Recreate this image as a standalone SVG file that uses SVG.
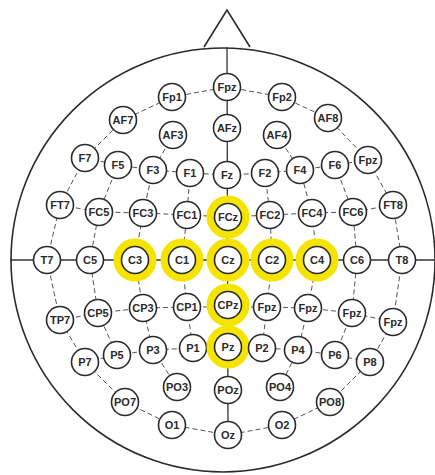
<svg xmlns="http://www.w3.org/2000/svg" width="435" height="475" viewBox="0 0 435 475">
<style>
.head{fill:none;stroke:#2a2a2a;stroke-width:1.6}
.axis{stroke:#333;stroke-width:1.3;fill:none}
.e{stroke:#555;stroke-width:1;stroke-dasharray:5 3;fill:none}
.n circle.c{fill:#fff;stroke:#2a2a2a;stroke-width:1.6}
.n circle.hl{fill:none;stroke:#f4e400;stroke-width:8}
.n text{font-family:"Liberation Sans",Arial,sans-serif;font-size:11px;font-weight:bold;fill:#2a2a2a;text-anchor:middle;dominant-baseline:central}
</style>
<rect width="435" height="475" fill="#fff"/>
<g id="head">
<circle class="head" cx="223" cy="260" r="212"/>
<path class="head" d="M204 47 L227 10 L250 47"/>
</g>
<g id="connectors">
<line class="axis" x1="227" y1="47" x2="228" y2="435"/>
<line class="axis" x1="10" y1="260" x2="435" y2="260"/>
<polyline class="e" points="47,260 60,205 85,158 123,120 172,97 227,87 282,97 328,118 368,160 393,205 402,260"/>
<polyline class="e" points="47,260 60,320 85,362 125,402 172,425 228,435 282,425 330,402 370,362 393,322 402,260"/>
<polyline class="e" points="85,158 118,165 153,170 190,173 227,175 265,173 300,170 335,165 368,160"/>
<polyline class="e" points="60,205 99,212 143,213 187,215 228,217 270,215 312,213 353,212 393,205"/>
<polyline class="e" points="60,320 98,313 143,308 187,307 228,307 267,307 308,308 352,313 393,322"/>
<polyline class="e" points="85,362 117,355 153,350 193,348 228,347 262,348 298,350 335,355 370,362"/>
<polyline class="e" points="173,135 153,170 143,213 135,260 143,308 153,350 177,387"/>
<polyline class="e" points="277,135 300,170 312,213 317,260 308,308 298,350 280,387"/>
<polyline class="e" points="118,165 99,212 90,260 98,313 117,355"/>
<polyline class="e" points="335,165 353,212 357,260 352,313 335,355"/>
<polyline class="e" points="190,173 187,215 182,260 187,307 193,348"/>
<polyline class="e" points="265,173 270,215 272,260 267,307 262,348"/>
</g>
<g id="Fpz" class="n"><circle class="c" cx="227" cy="87" r="13.5"/><text x="227" y="87">Fpz</text></g>
<g id="Fp1" class="n"><circle class="c" cx="172" cy="97" r="13.5"/><text x="172" y="97">Fp1</text></g>
<g id="Fp2" class="n"><circle class="c" cx="282" cy="97" r="13.5"/><text x="282" y="97">Fp2</text></g>
<g id="AF7" class="n"><circle class="c" cx="123" cy="120" r="13.5"/><text x="123" y="120">AF7</text></g>
<g id="AF3" class="n"><circle class="c" cx="173" cy="135" r="13.5"/><text x="173" y="135">AF3</text></g>
<g id="AFz" class="n"><circle class="c" cx="227" cy="128" r="13.5"/><text x="227" y="128">AFz</text></g>
<g id="AF4" class="n"><circle class="c" cx="277" cy="135" r="13.5"/><text x="277" y="135">AF4</text></g>
<g id="AF8" class="n"><circle class="c" cx="328" cy="118" r="13.5"/><text x="328" y="118">AF8</text></g>
<g id="F7" class="n"><circle class="c" cx="85" cy="158" r="13.5"/><text x="85" y="158">F7</text></g>
<g id="F5" class="n"><circle class="c" cx="118" cy="165" r="13.5"/><text x="118" y="165">F5</text></g>
<g id="F3" class="n"><circle class="c" cx="153" cy="170" r="13.5"/><text x="153" y="170">F3</text></g>
<g id="F1" class="n"><circle class="c" cx="190" cy="173" r="13.5"/><text x="190" y="173">F1</text></g>
<g id="Fz" class="n"><circle class="c" cx="227" cy="175" r="13.5"/><text x="227" y="175">Fz</text></g>
<g id="F2" class="n"><circle class="c" cx="265" cy="173" r="13.5"/><text x="265" y="173">F2</text></g>
<g id="F4" class="n"><circle class="c" cx="300" cy="170" r="13.5"/><text x="300" y="170">F4</text></g>
<g id="F6" class="n"><circle class="c" cx="335" cy="165" r="13.5"/><text x="335" y="165">F6</text></g>
<g id="F8" class="n"><circle class="c" cx="368" cy="160" r="13.5"/><text x="368" y="160">Fpz</text></g>
<g id="FT7" class="n"><circle class="c" cx="60" cy="205" r="13.5"/><text x="60" y="205">FT7</text></g>
<g id="FC5" class="n"><circle class="c" cx="99" cy="212" r="13.5"/><text x="99" y="212">FC5</text></g>
<g id="FC3" class="n"><circle class="c" cx="143" cy="213" r="13.5"/><text x="143" y="213">FC3</text></g>
<g id="FC1" class="n"><circle class="c" cx="187" cy="215" r="13.5"/><text x="187" y="215">FC1</text></g>
<g id="FCz" class="n"><circle class="hl" cx="228" cy="217" r="17.5"/><circle class="c" cx="228" cy="217" r="13.5"/><text x="228" y="217">FCz</text></g>
<g id="FC2" class="n"><circle class="c" cx="270" cy="215" r="13.5"/><text x="270" y="215">FC2</text></g>
<g id="FC4" class="n"><circle class="c" cx="312" cy="213" r="13.5"/><text x="312" y="213">FC4</text></g>
<g id="FC6" class="n"><circle class="c" cx="353" cy="212" r="13.5"/><text x="353" y="212">FC6</text></g>
<g id="FT8" class="n"><circle class="c" cx="393" cy="205" r="13.5"/><text x="393" y="205">FT8</text></g>
<g id="T7" class="n"><circle class="c" cx="47" cy="260" r="13.5"/><text x="47" y="260">T7</text></g>
<g id="C5" class="n"><circle class="c" cx="90" cy="260" r="13.5"/><text x="90" y="260">C5</text></g>
<g id="C3" class="n"><circle class="hl" cx="135" cy="260" r="17.5"/><circle class="c" cx="135" cy="260" r="13.5"/><text x="135" y="260">C3</text></g>
<g id="C1" class="n"><circle class="hl" cx="182" cy="260" r="17.5"/><circle class="c" cx="182" cy="260" r="13.5"/><text x="182" y="260">C1</text></g>
<g id="Cz" class="n"><circle class="hl" cx="228" cy="260" r="17.5"/><circle class="c" cx="228" cy="260" r="13.5"/><text x="228" y="260">Cz</text></g>
<g id="C2" class="n"><circle class="hl" cx="272" cy="260" r="17.5"/><circle class="c" cx="272" cy="260" r="13.5"/><text x="272" y="260">C2</text></g>
<g id="C4" class="n"><circle class="hl" cx="317" cy="260" r="17.5"/><circle class="c" cx="317" cy="260" r="13.5"/><text x="317" y="260">C4</text></g>
<g id="C6" class="n"><circle class="c" cx="357" cy="260" r="13.5"/><text x="357" y="260">C6</text></g>
<g id="T8" class="n"><circle class="c" cx="402" cy="260" r="13.5"/><text x="402" y="260">T8</text></g>
<g id="TP7" class="n"><circle class="c" cx="60" cy="320" r="13.5"/><text x="60" y="320">TP7</text></g>
<g id="CP5" class="n"><circle class="c" cx="98" cy="313" r="13.5"/><text x="98" y="313">CP5</text></g>
<g id="CP3" class="n"><circle class="c" cx="143" cy="308" r="13.5"/><text x="143" y="308">CP3</text></g>
<g id="CP1" class="n"><circle class="c" cx="187" cy="307" r="13.5"/><text x="187" y="307">CP1</text></g>
<g id="CPz" class="n"><circle class="hl" cx="228" cy="305" r="17.5"/><circle class="c" cx="228" cy="305" r="13.5"/><text x="228" y="305">CPz</text></g>
<g id="CP2" class="n"><circle class="c" cx="267" cy="307" r="13.5"/><text x="267" y="307">Fpz</text></g>
<g id="CP4" class="n"><circle class="c" cx="308" cy="308" r="13.5"/><text x="308" y="308">Fpz</text></g>
<g id="CP6" class="n"><circle class="c" cx="352" cy="313" r="13.5"/><text x="352" y="313">Fpz</text></g>
<g id="TP8" class="n"><circle class="c" cx="393" cy="322" r="13.5"/><text x="393" y="322">Fpz</text></g>
<g id="P7" class="n"><circle class="c" cx="85" cy="362" r="13.5"/><text x="85" y="362">P7</text></g>
<g id="P5" class="n"><circle class="c" cx="117" cy="355" r="13.5"/><text x="117" y="355">P5</text></g>
<g id="P3" class="n"><circle class="c" cx="153" cy="350" r="13.5"/><text x="153" y="350">P3</text></g>
<g id="P1" class="n"><circle class="c" cx="193" cy="348" r="13.5"/><text x="193" y="348">P1</text></g>
<g id="Pz" class="n"><circle class="hl" cx="228" cy="347" r="17.5"/><circle class="c" cx="228" cy="347" r="13.5"/><text x="228" y="347">Pz</text></g>
<g id="P2" class="n"><circle class="c" cx="262" cy="348" r="13.5"/><text x="262" y="348">P2</text></g>
<g id="P4" class="n"><circle class="c" cx="298" cy="350" r="13.5"/><text x="298" y="350">P4</text></g>
<g id="P6" class="n"><circle class="c" cx="335" cy="355" r="13.5"/><text x="335" y="355">P6</text></g>
<g id="P8" class="n"><circle class="c" cx="370" cy="362" r="13.5"/><text x="370" y="362">P8</text></g>
<g id="PO7" class="n"><circle class="c" cx="125" cy="402" r="13.5"/><text x="125" y="402">PO7</text></g>
<g id="PO3" class="n"><circle class="c" cx="177" cy="387" r="13.5"/><text x="177" y="387">PO3</text></g>
<g id="POz" class="n"><circle class="c" cx="228" cy="390" r="13.5"/><text x="228" y="390">POz</text></g>
<g id="PO4" class="n"><circle class="c" cx="280" cy="387" r="13.5"/><text x="280" y="387">PO4</text></g>
<g id="PO8" class="n"><circle class="c" cx="330" cy="402" r="13.5"/><text x="330" y="402">PO8</text></g>
<g id="O1" class="n"><circle class="c" cx="172" cy="425" r="13.5"/><text x="172" y="425">O1</text></g>
<g id="Oz" class="n"><circle class="c" cx="228" cy="435" r="13.5"/><text x="228" y="435">Oz</text></g>
<g id="O2" class="n"><circle class="c" cx="282" cy="425" r="13.5"/><text x="282" y="425">O2</text></g>
</svg>
